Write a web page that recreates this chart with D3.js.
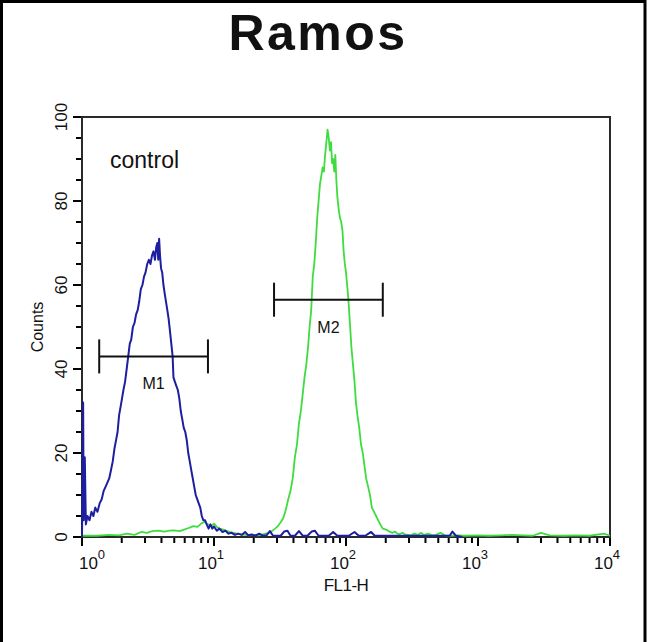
<!DOCTYPE html>
<html>
<head>
<meta charset="utf-8">
<script src="https://cdn.jsdelivr.net/npm/d3@7"></script>
<style>
  html, body { margin: 0; padding: 0; background: #fff; }
  svg { display: block; }
  text { font-family: "Liberation Sans", Arial, Helvetica, sans-serif; fill: #111; }
</style>
</head>
<body>
<svg id="chart" width="650" height="642"></svg>
<script>
// ---------------- data ----------------
const title = "Ramos";
const sampleLabel = "control";
const xLabel = "FL1-H";
const yLabel = "Counts";

const xMajorTicks = [1, 10, 100, 1000, 10000];
const xTickExponents = ["0", "1", "2", "3", "4"];
const yMajorTicks = [0, 20, 40, 60, 80, 100];
const yMinorTicks = [5, 10, 15, 25, 30, 35, 45, 50, 55, 65, 70, 75, 85, 90, 95];

// control histogram (blue): FL1-H channel value, counts
const controlX = [1.00, 1.02, 1.03, 1.05, 1.07, 1.10, 1.14, 1.18, 1.22, 1.26, 1.31, 1.36, 1.41, 1.46, 1.51, 1.56, 1.61, 1.66, 1.71, 1.76,
  1.81, 1.86, 1.91, 1.96, 2.01, 2.06, 2.12, 2.18, 2.24, 2.30, 2.36, 2.43, 2.50, 2.57, 2.64, 2.71, 2.79, 2.87, 2.95, 3.03,
  3.12, 3.21, 3.30, 3.39, 3.48, 3.57, 3.65, 3.72, 3.78, 3.84, 3.90, 3.97, 4.05, 4.14, 4.23, 4.33, 4.43, 4.53, 4.64, 4.75,
  4.86, 4.93, 5.05, 5.18, 5.32, 5.46, 5.60, 5.75, 5.90, 6.06, 6.22, 6.38, 6.55, 6.72, 6.90, 7.08, 7.27, 7.46, 7.66, 7.87,
  8.08, 8.30, 8.55, 8.80, 9.10, 9.40, 9.70, 10.0, 10.5, 11.0, 11.6, 12.2, 12.9, 13.6, 14.4, 15.3, 16.2, 17.2, 18.2, 19.3,
  20.5, 22, 23.5, 25, 26.5, 28, 30, 32, 34, 36, 38, 41, 44, 47, 51, 55, 58, 62, 67, 74,
  80, 86, 95, 105, 116, 125, 140, 155, 165, 185, 210, 250, 320, 400, 560, 610, 640, 680, 760];
const controlY = [0, 32, 4, 19, 3, 5, 4, 6, 5, 7, 6, 8, 9, 11, 12, 13, 14, 16, 18, 21,
  23, 25, 29, 31, 33, 35, 37, 40, 43, 46, 47, 50, 51, 53, 54, 56, 59, 60, 62, 63,
  65, 66, 65, 67, 68, 66, 69, 70, 66, 71, 67, 64, 63, 60, 58, 56, 54, 52, 49, 46,
  43, 38, 37, 36, 35, 33, 30, 28, 26, 25, 23, 20, 18, 16, 14, 12, 10, 9, 8, 7,
  5, 4, 4, 3, 2, 3, 2, 2.5, 1.5, 2, 1.2, 1.5, 0.8, 1, 0.5, 0.8, 0.5, 1.2, 0.4, 0.6,
  0.3, 0.8, 0.3, 0.4, 1.4, 0.3, 0.3, 0.3, 1.3, 1.5, 0.3, 0.3, 1.4, 0.3, 0.3, 1.3, 1.5, 0.3, 0.3, 0.3,
  1.2, 0.3, 0.3, 0.3, 1.2, 0.3, 0.3, 1.2, 0.3, 0.3, 0.3, 0.3, 0.3, 0.3, 0.3, 0.3, 1.3, 0.3, 0];

// sample histogram (green): FL1-H channel value, counts
const sampleX = [1.0, 1.3, 1.6, 1.9, 2.2, 2.5, 2.8, 3.1, 3.4, 3.8, 4.2, 4.6, 5.0, 5.5, 6.0, 6.5, 7.0, 7.5, 8.0, 8.5,
  9.0, 9.5, 10, 10.5, 11, 11.6, 12.3, 13, 14, 15, 16, 17, 18.5, 20, 21.5, 23, 24.5, 26, 27.5, 29,
  30.5, 32, 33.5, 35, 36.5, 38, 39.5, 41, 42.5, 44, 45.5, 47, 48.5, 50, 51.5, 53, 54.5, 56, 57.5, 59,
  60.5, 62, 63.5, 65, 66.5, 68, 69.5, 71, 72.5, 74, 75.5, 77, 78.5, 80, 81.5, 83, 84.5, 86, 88, 90,
  92, 94, 96, 98, 100, 102, 104, 107, 110, 113, 116, 119, 122, 126, 130, 134, 138, 142, 147, 152,
  157, 163, 169, 175, 182, 190, 198, 206, 215, 225, 235, 245, 256, 268, 280, 295, 310, 330, 350, 370,
  390, 420, 450, 480, 520, 560, 600, 700, 800, 1000, 1200, 1500, 1800, 2200, 2600, 3000, 3500, 4500, 5500, 7000,
  9000, 10000];
const sampleY = [0.3, 0.3, 0.5, 0.4, 0.8, 0.5, 1.2, 1.0, 1.4, 1.5, 1.3, 1.5, 1.6, 1.4, 1.8, 2.2, 2.6, 2.4, 3.2, 3.6,
  3.0, 2.6, 3.2, 2.4, 2.0, 1.8, 1.5, 1.2, 1.0, 0.8, 0.6, 0.5, 0.4, 0.5, 0.4, 0.5, 0.8, 1.0, 1.4, 2.0,
  2.6, 3.5, 4.5, 6.5, 9, 11, 14, 19, 22, 27, 30, 34, 38, 41, 45, 50, 54, 62, 65, 70,
  76, 80, 84, 86, 88, 87, 91, 94, 97, 95, 92, 94, 89, 90, 87, 91, 85, 81, 78, 76,
  75, 73, 68, 65, 63, 60, 57, 51, 45, 41, 37, 32, 29, 26, 22, 20, 17, 14, 12, 10,
  7, 6, 5, 4, 3, 2, 1.8, 1.6, 1.2, 1.0, 1.3, 0.8, 0.7, 1.0, 0.6, 0.5, 0.4, 0.8, 0.5, 1.0,
  0.5, 0.8, 0.4, 0.5, 1.0, 0.4, 0.3, 0.4, 0.3, 0.4, 0.3, 0.4, 0.5, 0.4, 0.3, 1.0, 0.4, 0.3, 0.4, 0.3,
  0.8, 0.3];

// gate markers
const markerNames = ["M1", "M2"];
const markerStart = [1.35, 28.5];
const markerEnd = [9.0, 190];
const markerLevel = [43, 56.5];

// ---------------- layout ----------------
const svg = d3.select("#chart");
const plot = { left: 82, right: 610, top: 117, bottom: 537 };

const x = d3.scaleLog().domain([1, 10000]).range([plot.left, plot.right]);
const y = d3.scaleLinear().domain([0, 100]).range([plot.bottom, plot.top]);

// outer image border
svg.append("path")
  .attr("d", `M1.5,660 V1.5 H645 V660`)
  .attr("fill", "none").attr("stroke", "#000").attr("stroke-width", 3);

// title
svg.append("text")
  .attr("x", 318).attr("y", 50)
  .attr("text-anchor", "middle")
  .attr("font-size", 50).attr("font-weight", "bold")
  .attr("letter-spacing", 2.5)
  .text(title);

// x axis ticks
const xMinor = [];
xMajorTicks.slice(0, -1).forEach(d => { for (let k = 2; k <= 9; k++) xMinor.push(d * k); });

svg.append("g")
  .attr("transform", `translate(0,${plot.bottom})`)
  .call(d3.axisBottom(x).tickValues(xMinor).tickFormat("").tickSize(6).tickSizeOuter(0).offset(0))
  .call(g => g.select(".domain").remove())
  .call(g => g.selectAll("line").attr("stroke", "#000").attr("stroke-width", 2));

svg.append("g")
  .attr("transform", `translate(0,${plot.bottom})`)
  .call(d3.axisBottom(x).tickValues(xMajorTicks).tickFormat("").tickSize(9).tickSizeOuter(0).offset(0))
  .call(g => g.select(".domain").remove())
  .call(g => g.selectAll("line").attr("stroke", "#000").attr("stroke-width", 2));

// x tick labels 10^n
const xl = svg.append("g");
xMajorTicks.forEach((d, i) => {
  const t = xl.append("text")
    .attr("x", Math.max(x(d) - 3, 92)).attr("y", 569)
    .attr("text-anchor", "middle")
    .attr("font-size", 17);
  t.append("tspan").text("10");
  t.append("tspan").attr("dy", -10).attr("font-size", 13).text(xTickExponents[i]);
});

svg.append("text")
  .attr("x", 346).attr("y", 591)
  .attr("text-anchor", "middle")
  .attr("font-size", 17)
  .attr("letter-spacing", -0.5)
  .text(xLabel);

// y axis ticks
svg.append("g")
  .attr("transform", `translate(${plot.left},0)`)
  .call(d3.axisLeft(y).tickValues(yMinorTicks).tickFormat("").tickSize(6).tickSizeOuter(0).offset(0))
  .call(g => g.select(".domain").remove())
  .call(g => g.selectAll("line").attr("stroke", "#000").attr("stroke-width", 2));

svg.append("g")
  .attr("transform", `translate(${plot.left},0)`)
  .call(d3.axisLeft(y).tickValues(yMajorTicks).tickFormat("").tickSize(9).tickSizeOuter(0).offset(0))
  .call(g => g.select(".domain").remove())
  .call(g => g.selectAll("line").attr("stroke", "#000").attr("stroke-width", 2));

svg.append("g").selectAll("text")
  .data(yMajorTicks)
  .join("text")
  .attr("transform", d => `translate(67,${y(d)}) rotate(-90)`)
  .attr("text-anchor", "middle")
  .attr("font-size", 17)
  .text(d => d);

svg.append("text")
  .attr("transform", `translate(43,${(plot.top + plot.bottom) / 2}) rotate(-90)`)
  .attr("text-anchor", "middle")
  .attr("font-size", 16)
  .text(yLabel);

// plot frame
svg.append("rect")
  .attr("x", plot.left).attr("y", plot.top)
  .attr("width", plot.right - plot.left).attr("height", plot.bottom - plot.top)
  .attr("fill", "none").attr("stroke", "#2a2a2a").attr("stroke-width", 2);

// histograms
const line = d3.line().x(d => x(d[0])).y(d => y(d[1]));

const sampleData = sampleX.map((v, i) => [v, sampleY[i]]);
const controlData = controlX.map((v, i) => [v, controlY[i]]);

svg.append("path")
  .datum(sampleData)
  .attr("d", line)
  .attr("fill", "none")
  .attr("stroke", "#3fdc3f")
  .attr("stroke-width", 1.8)
  .attr("stroke-linejoin", "round");

svg.append("path")
  .datum(controlData)
  .attr("d", line)
  .attr("fill", "none")
  .attr("stroke", "#1e1ea0")
  .attr("stroke-width", 2)
  .attr("stroke-linejoin", "round");

// sample label
svg.append("text")
  .attr("x", 110).attr("y", 168)
  .attr("font-size", 23)
  .text(sampleLabel);

// markers
markerNames.forEach((name, i) => {
  const x0 = x(markerStart[i]), x1 = x(markerEnd[i]), yy = y(markerLevel[i]);
  const g = svg.append("g").attr("stroke", "#111").attr("stroke-width", 2);
  g.append("line").attr("x1", x0).attr("x2", x1).attr("y1", yy).attr("y2", yy);
  g.append("line").attr("x1", x0).attr("x2", x0).attr("y1", yy - 17).attr("y2", yy + 17);
  g.append("line").attr("x1", x1).attr("x2", x1).attr("y1", yy - 17).attr("y2", yy + 17);
  svg.append("text")
    .attr("x", x(Math.sqrt(markerStart[i] * markerEnd[i])))
    .attr("y", yy + 33)
    .attr("text-anchor", "middle")
    .attr("font-size", 16)
    .text(name);
});
</script>
</body>
</html>
